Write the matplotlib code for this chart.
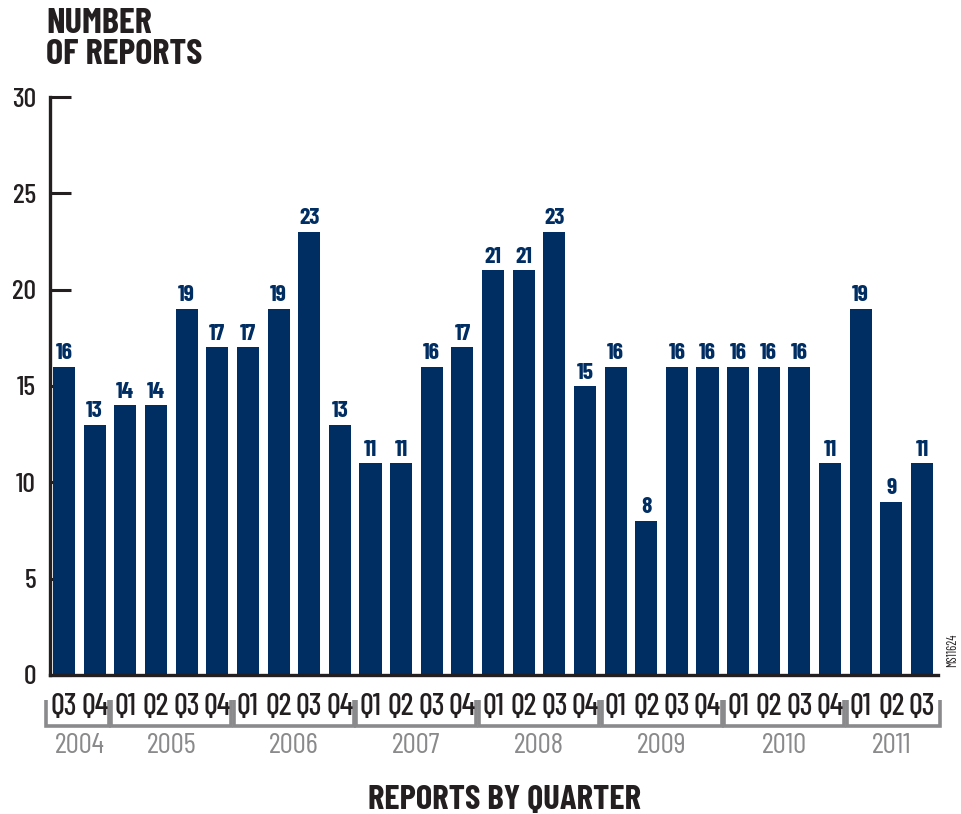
import matplotlib
matplotlib.use("Agg")
import matplotlib.pyplot as plt
from matplotlib.transforms import blended_transform_factory

quarters = ["Q3", "Q4",
            "Q1", "Q2", "Q3", "Q4",
            "Q1", "Q2", "Q3", "Q4",
            "Q1", "Q2", "Q3", "Q4",
            "Q1", "Q2", "Q3", "Q4",
            "Q1", "Q2", "Q3", "Q4",
            "Q1", "Q2", "Q3", "Q4",
            "Q1", "Q2", "Q3"]
values = [16, 13,
          14, 14, 19, 17,
          17, 19, 23, 13,
          11, 11, 16, 17,
          21, 21, 23, 15,
          16, 8, 16, 16,
          16, 16, 16, 11,
          19, 9, 11]
years = ["2004", "2005", "2006", "2007", "2008", "2009", "2010", "2011"]
year_counts = [2, 4, 4, 4, 4, 4, 4, 3]
yticks = [0, 5, 10, 15, 20, 25, 30]

NAVY = "#002d62"
GRAY = "#8a8a8c"
DARK = "#231f20"
FONT = ["Barlow Condensed", "DejaVu Sans"]
plt.rcParams["font.family"] = FONT

fig = plt.figure(figsize=(9.61, 8.14), dpi=100)
ax = fig.add_axes([0.052, 0.1708, 0.924, 0.710])

x = list(range(len(values)))
ax.bar(x, values, width=0.72, color=NAVY, zorder=1)
ax.set_axisbelow(True)
for xi, v in zip(x, values):
    ax.annotate(str(v), (xi, v), xytext=(0, 2.5), textcoords="offset points",
                ha="center", va="bottom", fontsize=17, fontweight="bold",
                color=NAVY)

ax.set_xlim(-0.46, 28.52)
ax.set_ylim(0, 30)
ax.set_yticks(yticks)
ax.set_yticklabels([str(t) for t in yticks], fontsize=20, fontweight=500)
ax.tick_params(axis="y", direction="in", length=15, width=2.2, pad=10,
               colors=DARK)
ax.set_xticks([])
for s in ["top", "right"]:
    ax.spines[s].set_visible(False)
for s in ["left", "bottom"]:
    ax.spines[s].set_linewidth(2.4)
    ax.spines[s].set_color(DARK)

trans = blended_transform_factory(ax.transData, ax.transAxes)
for xi, q in zip(x, quarters):
    ax.text(xi, -0.056, q, transform=trans, ha="center", va="center",
            fontsize=22, fontweight=500, color=DARK, clip_on=False)

start = 0
for yr, n in zip(years, year_counts):
    left = start - 0.5 + (-0.1 if start == 0 else 0.04)
    right = start + n - 0.5 - 0.04
    if start + n == len(values):
        right = start + n - 0.5 + 0.08
    ax.plot([left, left, right, right], [-0.043, -0.088, -0.088, -0.043],
            transform=trans, color=GRAY, lw=2.6, clip_on=False,
            solid_joinstyle="miter", solid_capstyle="butt")
    ax.text((start + start + n - 1) / 2, -0.123, yr, transform=trans,
            ha="center", va="center", fontsize=21, color=GRAY, clip_on=False)
    start += n

fig.text(46 / 961, 1 - 8 / 814, "NUMBER\nOF REPORTS", ha="left", va="top",
         fontsize=26, fontweight="bold", color=DARK, linespacing=0.95)
fig.text(505 / 961, 1 - 800 / 814, "REPORTS BY QUARTER", ha="center",
         va="center", fontsize=25, fontweight="bold", color=DARK)
fig.text(953 / 961, 1 - 650 / 814, "MS11624", rotation=90, ha="center",
         va="center", fontsize=9, color=DARK)

fig.savefig("out.png", dpi=100)
